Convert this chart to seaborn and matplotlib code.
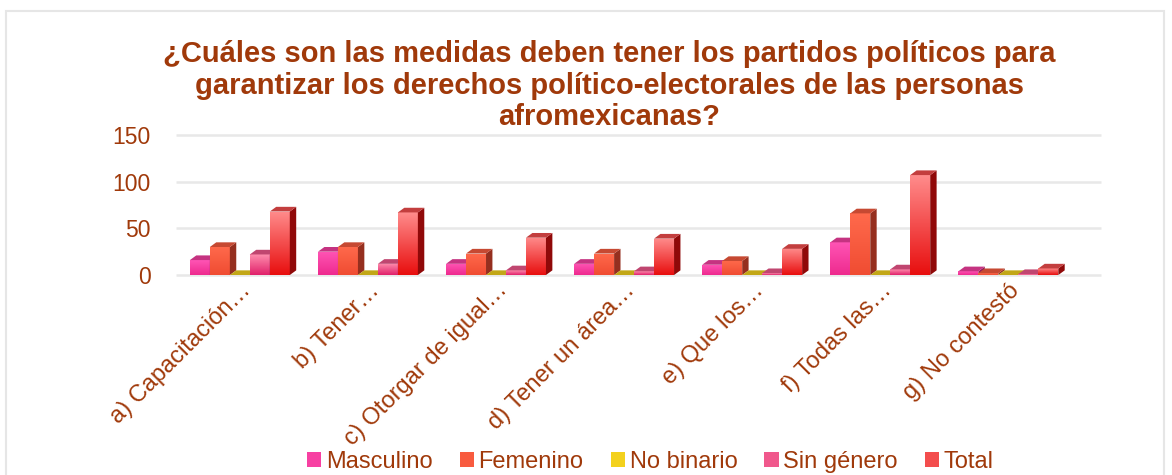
import numpy as np
import pandas as pd
import matplotlib
matplotlib.use("Agg")
import matplotlib.pyplot as plt
import seaborn as sns
from matplotlib.colors import LinearSegmentedColormap, to_rgb
from matplotlib.patches import Polygon, Rectangle

# datos
categorias = ["a) Capacitación…", "b) Tener…", "c) Otorgar de igual…",
              "d) Tener un área…", "e) Que los…", "f) Todas las…", "g) No contestó"]
series = ["Masculino", "Femenino", "No binario", "Sin género", "Total"]
masculino = [16, 25, 12, 12, 11, 35, 4]
femenino = [30, 30, 23, 23, 15, 66, 2]
no_binario = [0, 0, 0, 0, 0, 0, 0]
sin_genero = [22, 12, 5, 4, 2, 6, 1]
total = [68, 67, 40, 39, 28, 107, 7]
y_ticks = [0, 50, 100, 150]

titulo = ("¿Cuáles son las medidas deben tener los partidos políticos para\n"
          "garantizar los derechos político-electorales de las personas\n"
          "afromexicanas?")

# colores (arriba, abajo) de cada serie
color_arriba = {"Masculino": "#FF55B5", "Femenino": "#FF6A4C", "No binario": "#FFE13A",
                "Sin género": "#FF8FAE", "Total": "#FF8C8C"}
color_abajo = {"Masculino": "#EE2A8E", "Femenino": "#F04C32", "No binario": "#E6C000",
               "Sin género": "#E0206A", "Total": "#E80E0E"}
texto_color = "#A0390A"

df = pd.DataFrame({
    "pregunta": categorias * 5,
    "serie": np.repeat(series, len(categorias)),
    "valor": masculino + femenino + no_binario + sin_genero + total,
})

sns.set_theme(style="white")
plt.rcParams["font.family"] = ["Liberation Sans", "DejaVu Sans"]

fig = plt.figure(figsize=(11.72, 4.75), dpi=100)
ax = fig.add_axes([0.150, 0.421, 0.765, 0.295])

sns.barplot(data=df, x="pregunta", y="valor", hue="serie", order=categorias,
            hue_order=series, palette=color_abajo, width=0.78, gap=0,
            legend=False, ax=ax, zorder=2)

dx, dy = 0.05, 5
grad = np.linspace(0, 1, 256).reshape(-1, 1)

# barras con caras laterales y superior para imitar el 3D
for i, serie in enumerate(series):
    cmap = LinearSegmentedColormap.from_list(serie, [color_abajo[serie], color_arriba[serie]])
    base = np.array(to_rgb(color_abajo[serie]))
    lado = base * 0.62
    tapa = (np.array(to_rgb(color_arriba[serie])) * 0.5 + base * 0.5) * 0.8
    for j, p in enumerate(ax.containers[i]):
        x0, w, h = p.get_x(), p.get_width(), p.get_height()
        z = 2 + j * 0.1 + i * 0.01
        p.set_zorder(z)
        p.set_edgecolor("none")
        if h > 0:
            im = ax.imshow(grad, cmap=cmap, origin="lower", aspect="auto",
                           extent=[x0, x0 + w, 0, h], zorder=z + 0.001)
            im.set_clip_path(p)
            ax.add_patch(Polygon([(x0 + w, 0), (x0 + w + dx, dy), (x0 + w + dx, h + dy), (x0 + w, h)],
                                 closed=True, facecolor=lado, edgecolor="none", zorder=z + 0.002))
        ax.add_patch(Polygon([(x0, h), (x0 + dx, h + dy), (x0 + w + dx, h + dy), (x0 + w, h)],
                             closed=True, facecolor=tapa, edgecolor="none", zorder=z + 0.003))

ax.set_xlim(-0.5, 6.5)
ax.set_ylim(0, 150)
ax.set_yticks(y_ticks)
ax.set_xlabel("")
ax.set_ylabel("")
# lineas de division un poco mas largas, como en el original
ax.hlines(y_ticks, -0.5, 6.72, color="#E8E8E8", linewidth=1.8, zorder=0, clip_on=False)
for s in ax.spines.values():
    s.set_visible(False)
ax.tick_params(axis="y", labelsize=16.5, colors=texto_color, pad=18, length=0)
ax.tick_params(axis="x", labelsize=17, colors=texto_color, pad=3, length=0)
plt.setp(ax.get_xticklabels(), rotation=45, ha="right", rotation_mode="anchor")

fig.text(0.52, 0.916, titulo, ha="center", va="top", fontsize=21,
         fontweight="bold", color=texto_color, linespacing=1.17)

# leyenda con cuadritos
leyenda_color = {s: tuple((np.array(to_rgb(color_arriba[s])) + np.array(to_rgb(color_abajo[s]))) / 2)
                 for s in series}
handles = [Rectangle((0, 0), 1, 1, facecolor=leyenda_color[s], edgecolor="none") for s in series]
leg = fig.legend(handles, series, loc="center", bbox_to_anchor=(0.555, 0.027), ncol=5,
                 frameon=False, fontsize=17, handlelength=0.6, handleheight=0.6,
                 handletextpad=0.2, columnspacing=1.15)
for t in leg.get_texts():
    t.set_color(texto_color)

# marco del grafico
fig.patches.append(Rectangle((6 / 1172, -0.05), 1158 / 1172, 1.05 - 11 / 475,
                             transform=fig.transFigure, fill=False,
                             edgecolor="#E6E6E6", linewidth=1.5))

fig.savefig("out.png", dpi=100)
